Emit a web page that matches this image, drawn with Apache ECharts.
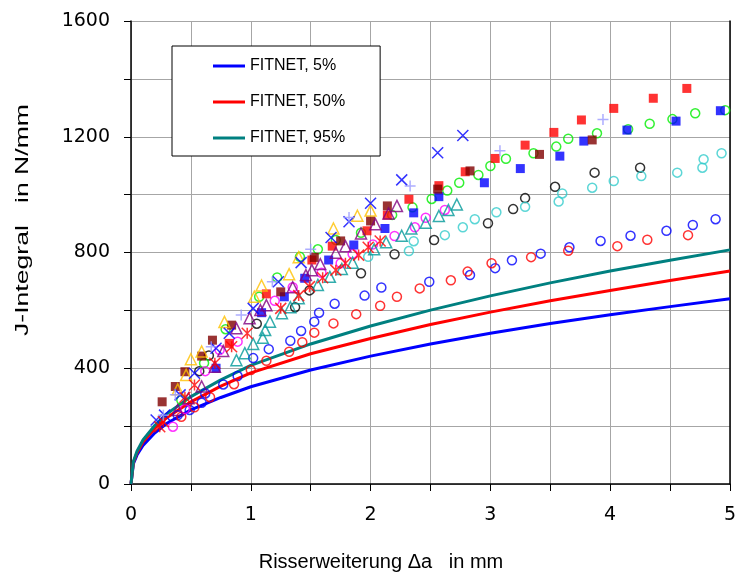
<!DOCTYPE html>
<html>
<head>
<meta charset="utf-8">
<script src="https://cdn.jsdelivr.net/npm/echarts@6/dist/echarts.min.js"></script>
<style>
  html, body { margin: 0; padding: 0; background: #fff; }
  #chart { width: 739px; height: 575px; }
</style>
</head>
<body>
<div id="chart"></div>
<script>
// FITNET curves
const xCurve = [0, 0.02, 0.05, 0.1, 0.2, 0.3, 0.5, 0.75, 1, 1.5, 2, 2.5, 3, 3.5, 4, 4.5, 5]
const fitnet5 = [0, 70, 100, 133, 177, 210, 256, 299, 336, 394, 442, 484, 521, 555, 585, 613, 640]
const fitnet50 = [0, 75, 108, 145, 193, 230, 284, 338, 384, 450, 503, 551, 594, 633, 669, 703, 736]
const fitnet95 = [0, 78, 113, 152, 203, 243, 302, 360, 410, 484, 546, 601, 650, 695, 736, 773, 809]

// test points [da, J]
const blueCircles = [[0.39, 238], [0.49, 256], [0.59, 281], [0.62, 313], [0.77, 344], [0.89, 373], [1.02, 435], [1.15, 466], [1.33, 495], [1.42, 529], [1.53, 561], [1.57, 592], [1.7, 623], [1.95, 651], [2.09, 679], [2.49, 699], [2.83, 722], [3.04, 746], [3.18, 773], [3.42, 796], [3.66, 818], [3.92, 840], [4.17, 858], [4.47, 875], [4.69, 895], [4.88, 915]]
const redCircles = [[0.42, 232], [0.53, 265], [0.66, 300], [0.86, 345], [1.0, 394], [1.13, 426], [1.32, 457], [1.43, 490], [1.53, 523], [1.69, 555], [1.88, 587], [2.08, 616], [2.22, 647], [2.41, 676], [2.67, 704], [2.81, 734], [3.01, 763], [3.34, 784], [3.65, 806], [4.06, 822], [4.31, 844], [4.65, 860]]
const blackCircles = [[0.57, 390], [0.65, 444], [1.05, 554], [1.37, 611], [1.49, 669], [1.92, 728], [2.2, 794], [2.53, 843], [2.98, 901], [3.19, 950], [3.29, 988], [3.54, 1027], [3.87, 1076], [4.25, 1093]]
const cyanCircles = [[1.98, 785], [2.32, 805], [2.36, 839], [2.62, 860], [2.77, 887], [2.87, 915], [3.05, 939], [3.29, 958], [3.57, 976], [3.6, 1004], [3.85, 1024], [4.03, 1047], [4.26, 1064], [4.56, 1076], [4.77, 1093], [4.78, 1122], [4.93, 1143]]
const greenCircles = [[0.42, 290], [0.61, 418], [0.79, 535], [1.07, 647], [1.22, 714], [1.41, 785], [1.56, 811], [1.71, 843], [1.92, 868], [2.18, 930], [2.35, 956], [2.51, 985], [2.64, 1014], [2.74, 1041], [2.9, 1068], [3.0, 1099], [3.13, 1124], [3.36, 1143], [3.55, 1166], [3.65, 1193], [3.89, 1212], [4.15, 1226], [4.33, 1245], [4.52, 1261], [4.71, 1281], [4.96, 1292]]
const magentaCircles = [[0.35, 198], [0.45, 259], [0.62, 390], [0.74, 463], [0.89, 492], [1.2, 633], [1.35, 680], [1.59, 730], [1.75, 763], [1.85, 795], [2.02, 828], [2.2, 857], [2.37, 887], [2.46, 920], [2.62, 947]]
const redSquares = [[0.82, 486], [1.13, 657], [1.51, 774], [1.68, 822], [1.97, 875], [2.14, 929], [2.32, 984], [2.57, 1031], [2.79, 1079], [3.04, 1125], [3.29, 1171], [3.53, 1215], [3.76, 1258], [4.03, 1298], [4.36, 1333], [4.64, 1367]]
const blueSquares = [[0.71, 400], [1.09, 592], [1.28, 647], [1.45, 711], [1.65, 774], [1.86, 826], [2.12, 883], [2.36, 937], [2.57, 993], [2.95, 1041], [3.25, 1090], [3.58, 1133], [3.78, 1185], [4.14, 1223], [4.55, 1254], [4.92, 1290]]
const maroonSquares = [[0.26, 284], [0.37, 337], [0.45, 388], [0.59, 442], [0.68, 497], [0.84, 549], [1.25, 664], [1.53, 783], [1.75, 840], [2.0, 909], [2.14, 961], [2.56, 1019], [2.83, 1082], [3.41, 1139], [3.85, 1189]]
const goldTriangles = [[0.39, 327], [0.46, 377], [0.5, 431], [0.59, 458], [0.78, 560], [1.03, 647], [1.09, 686], [1.32, 725], [1.4, 784], [1.69, 883], [1.89, 927], [2.0, 945]]
const tealTriangles = [[0.88, 428], [0.95, 452], [1.02, 484], [1.1, 505], [1.12, 532], [1.16, 561], [1.26, 590], [1.33, 611], [1.4, 642], [1.56, 688], [1.66, 716], [1.76, 743], [1.85, 765], [2.03, 811], [2.13, 835], [2.26, 858], [2.34, 883], [2.46, 903], [2.57, 926], [2.65, 947], [2.72, 966]]
const purpleTriangles = [[0.39, 256], [0.48, 296], [0.59, 337], [0.7, 405], [0.77, 460], [0.88, 538], [0.99, 573], [1.08, 601], [1.13, 618], [1.35, 680], [1.46, 722], [1.51, 739], [1.58, 760], [1.71, 799], [1.79, 822], [1.92, 866], [2.04, 898], [2.15, 935], [2.22, 961]]
const blueCrosses = [[0.21, 221], [0.28, 238], [0.41, 308], [0.53, 383], [0.71, 469], [0.82, 521], [1.02, 607], [1.23, 699], [1.42, 765], [1.67, 852], [1.82, 906], [2.0, 970], [2.26, 1051], [2.56, 1145], [2.77, 1204]]
const redStars = [[0.24, 198], [0.27, 215], [0.45, 300], [0.53, 342], [0.7, 417], [0.84, 474], [0.97, 521], [1.25, 607], [1.4, 651], [1.49, 682], [1.6, 713], [1.71, 739], [1.79, 763], [1.9, 791], [1.98, 818], [2.08, 840]]
const lavenderPlus = [[0.27, 238], [0.37, 308], [0.67, 474], [0.92, 584], [1.18, 699], [1.5, 811], [1.82, 921], [2.33, 1030], [3.08, 1152], [3.94, 1260]]

const crossPath = 'path://M0,0L10,10M10,0L0,10'
const starPath = 'path://M0,0L10,10M10,0L0,10M5,0L5,10'
const plusPath = 'path://M5,0L5,10M0,5L10,5'

function curve(name, ys, color) {
  return {
    name: name,
    type: 'line',
    data: xCurve.map((x, i) => [x, ys[i]]),
    symbol: 'none',
    lineStyle: { color: color, width: 3 },
    itemStyle: { color: color },
    z: 2
  }
}

function openPts(data, symbol, color, size) {
  return {
    type: 'scatter',
    data: data,
    symbol: symbol,
    symbolSize: size,
    itemStyle: { color: 'transparent', borderColor: color, borderWidth: 1.5 },
    z: 3
  }
}

function filledPts(data, color) {
  return {
    type: 'scatter',
    data: data,
    symbol: 'rect',
    symbolSize: 9,
    itemStyle: { color: color },
    z: 3
  }
}

const chart = echarts.init(document.getElementById('chart'))

chart.setOption({
  animation: false,
  backgroundColor: '#fff',
  grid: { left: 131, right: 6, top: 21, bottom: 91 },
  legend: {
    data: ['FITNET, 5%', 'FITNET, 50%', 'FITNET, 95%'],
    orient: 'vertical',
    left: 172,
    top: 46,
    backgroundColor: '#fff',
    borderColor: '#000',
    borderWidth: 1,
    borderRadius: 0,
    padding: [12, 35, 10, 41],
    itemGap: 20,
    icon: 'rect',
    itemWidth: 32,
    itemHeight: 3,
    textStyle: { fontFamily: 'Liberation Sans, Arial', fontSize: 16, color: '#000' }
  },
  xAxis: {
    type: 'value',
    min: 0,
    max: 5,
    interval: 0.5,
    axisLine: { lineStyle: { color: '#000', width: 1.5 } },
    axisTick: { show: true, length: 7, lineStyle: { color: '#000' } },
    axisLabel: {
      margin: 22,
      fontFamily: 'DejaVu Sans',
      fontSize: 19,
      color: '#000',
      formatter: v => (Math.abs(v - Math.round(v)) < 1e-9 ? String(Math.round(v)) : '')
    },
    splitLine: { show: true, lineStyle: { color: '#a6a6a6', width: 1 } }
  },
  yAxis: [{
    type: 'value',
    min: 0,
    max: 1600,
    interval: 200,
    axisLine: { show: true, lineStyle: { color: '#000', width: 1.5 } },
    axisTick: { show: true, length: 7, lineStyle: { color: '#000' } },
    axisLabel: {
      margin: 21,
      fontFamily: 'DejaVu Sans',
      fontSize: 19,
      color: '#000',
      formatter: v => (v % 400 === 0 ? String(v) : '')
    },
    splitLine: { show: true, lineStyle: { color: '#a6a6a6', width: 1 } }
  }, {
    type: 'value',
    position: 'right',
    min: 0,
    max: 1600,
    axisLine: { show: true, lineStyle: { color: '#000', width: 1.5 } },
    axisTick: { show: false },
    axisLabel: { show: false },
    splitLine: { show: false }
  }],
  graphic: [
    {
      type: 'text',
      x: 23,
      y: 220,
      rotation: Math.PI / 2,
      scaleX: 1.4,
      style: {
        text: 'J-Integral   in N/mm',
        fontFamily: 'Liberation Sans, Arial',
        fontSize: 19,
        fill: '#000',
        align: 'center',
        verticalAlign: 'middle'
      }
    },
    {
      type: 'text',
      x: 381,
      y: 562,
      style: {
        text: 'Risserweiterung \u0394a   in mm',
        fontFamily: 'Liberation Sans, Arial',
        fontSize: 20,
        fill: '#000',
        align: 'center',
        verticalAlign: 'middle'
      }
    }
  ],
  series: [
    curve('FITNET, 5%', fitnet5, '#0000ff'),
    curve('FITNET, 50%', fitnet50, '#ff0000'),
    curve('FITNET, 95%', fitnet95, '#008080'),
    openPts(blueCircles, 'circle', '#0000ff', 9),
    openPts(redCircles, 'circle', '#ff0000', 9),
    openPts(blackCircles, 'circle', '#000000', 9),
    openPts(cyanCircles, 'circle', '#33cccc', 9),
    openPts(greenCircles, 'circle', '#00ee00', 9),
    openPts(magentaCircles, 'circle', '#ff00ff', 9),
    filledPts(redSquares, '#ff0000'),
    filledPts(blueSquares, '#0000ff'),
    filledPts(maroonSquares, '#800000'),
    openPts(goldTriangles, 'triangle', '#ffc000', 11),
    openPts(tealTriangles, 'triangle', '#009999', 11),
    openPts(purpleTriangles, 'triangle', '#800080', 11),
    openPts(blueCrosses, crossPath, '#0000ff', 11),
    openPts(redStars, starPath, '#ff0000', 11),
    openPts(lavenderPlus, plusPath, '#9999ff', 11)
  ]
})
</script>
</body>
</html>
